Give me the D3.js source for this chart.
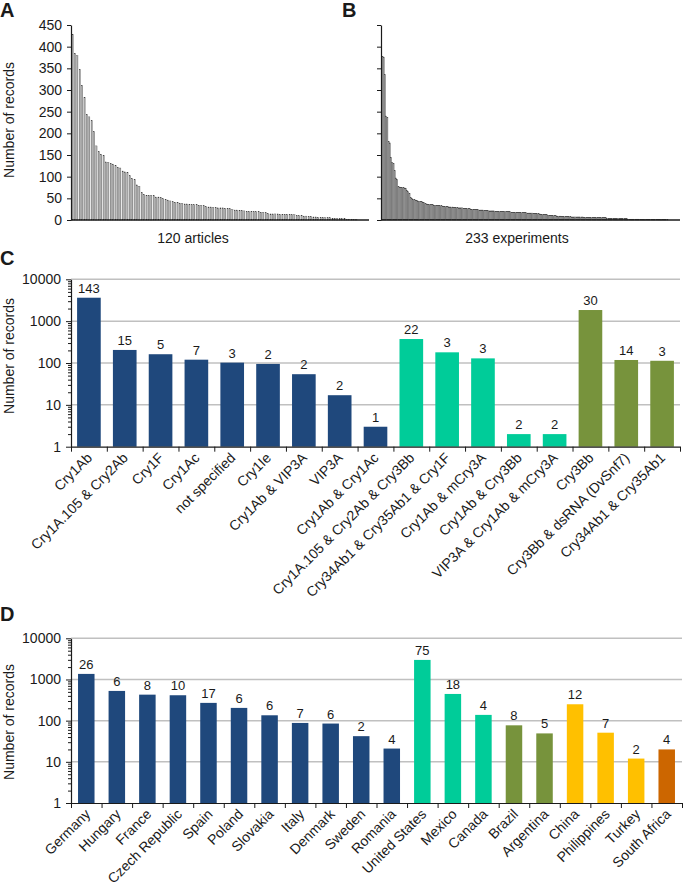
<!DOCTYPE html>
<html>
<head>
<meta charset="utf-8">
<script src="https://cdn.jsdelivr.net/npm/d3@7"></script>
<style>
body{margin:0;background:#fff}
text{font-family:"Liberation Sans",Arial,sans-serif;fill:#1a1a1a}
.domain,.tick line{stroke:#1a1a1a}
</style>
</head>
<body>
<div id="chart"></div>
<script>
// records per article (A), sorted
var articles = [428,385,379,348,311,282,244,238,229,204,171,158,152,149,134,
  133,131,129,125,122,120,113,111,109,102,96,93,81,78,64,
  59,57,57,57,57,53,53,52,49,47,46,44,42,41,40,
  39,38,37,37,36,35,35,35,34,34,33,31,30,30,29,
  29,28,28,28,27,27,26,24,23,23,22,22,21,20,20,
  19,19,19,19,18,18,17,15,14,14,14,14,13,13,13,
  13,13,12,12,11,10,10,9,9,8,8,7,7,6,6,
  6,5,5,5,4,4,4,3,3,3,2,2,2,1,1];

// records per experiment (B), sorted
var experiments = [378,376,336,240,236,182,178,145,133,130,
  114,97,94,78,76,75,75,75,74,73,
  68,65,62,52,50,48,47,46,45,44,
  43,42,42,41,40,38,37,36,36,35,
  35,35,34,34,34,33,33,33,33,32,
  32,31,31,31,30,30,30,30,29,29,
  29,29,28,28,28,28,27,27,27,26,
  26,26,25,25,25,24,24,24,24,23,
  23,23,23,22,22,22,22,21,21,21,
  21,21,20,20,20,20,20,20,19,19,
  19,19,19,19,19,18,18,18,18,18,
  18,18,18,17,17,17,17,17,16,16,
  16,16,16,15,15,15,15,15,14,13,
  13,13,12,12,12,11,11,11,10,10,
  10,10,9,9,9,9,8,8,8,8,
  8,8,8,8,7,7,7,7,7,7,
  7,7,7,7,6,6,6,6,6,6,
  6,6,6,6,6,6,5,5,5,5,
  5,5,5,4,4,4,4,4,4,4,
  4,3,3,3,3,3,3,3,3,3,
  2,2,2,2,2,2,2,2,2,2,
  1,1,1,1,1,1,1,1,1,1,
  1,1,1,1,1,1,1,1,1,1,
  1,1,1];

// C: Bt events
var events = ["Cry1Ab","Cry1A.105 & Cry2Ab","Cry1F","Cry1Ac","not specified","Cry1Ie",
  "Cry1Ab & VIP3A","VIP3A","Cry1Ab & Cry1Ac","Cry1A.105 & Cry2Ab & Cry3Bb",
  "Cry34Ab1 & Cry35Ab1 & Cry1F","Cry1Ab & mCry3A","Cry1Ab & Cry3Bb","VIP3A & Cry1Ab & mCry3A",
  "Cry3Bb","Cry3Bb & dsRNA (DvSnf7)","Cry34Ab1 & Cry35Ab1"];
var eventRecords = [3630,205,162,120,102,95,54,17,3,374,180,129,2,2,1845,118,113];
var eventCounts = [143,15,5,7,3,2,2,2,1,22,3,3,2,2,30,14,3];
var eventGroup = ["lep","lep","lep","lep","lep","lep","lep","lep","lep",
  "both","both","both","both","both","col","col","col"];

// D: countries
var countries = ["Germany","Hungary","France","Czech Republic","Spain","Poland","Slovakia",
  "Italy","Denmark","Sweden","Romania","United States","Mexico","Canada","Brazil",
  "Argentina","China","Philippines","Turkey","South Africa"];
var countryRecords = [1365,527,428,414,270,204,135,88,85,42,21,2985,445,138,77,49,250,51,12,20];
var countryCounts = [26,6,8,10,17,6,6,7,6,2,4,75,18,4,8,5,12,7,2,4];
var countryGroup = ["eu","eu","eu","eu","eu","eu","eu","eu","eu","eu","eu",
  "na","na","na","sa","sa","as","as","as","af"];

var colors = {lep:"#1f487c", both:"#00cc99", col:"#77933c",
  eu:"#1f487c", na:"#00cc99", sa:"#77933c", as:"#ffc000", af:"#cc6600"};

var svg = d3.select("#chart").append("svg")
  .attr("width", 685).attr("height", 891)
  .style("background", "#fff");

function letter(t, x, y){
  svg.append("text").attr("x", x).attr("y", y)
    .style("font-size","20px").style("font-weight","bold").text(t);
}
function ylabel(x, y){
  svg.append("text").attr("transform","translate("+x+","+y+") rotate(-90)")
    .attr("text-anchor","middle").style("font-size","14px").text("Number of records");
}

// ---- A and B ----
function drawSorted(data, left, right, pad, fill, showLabels, caption, capX){
  var y = d3.scaleLinear().domain([0,450]).range([220,25]);
  var x = d3.scaleBand().domain(d3.range(data.length)).range([left+1, right]).paddingInner(pad);
  var g = svg.append("g");
  g.selectAll("rect").data(data).enter().append("rect")
    .attr("x", function(d,i){ return x(i); })
    .attr("width", x.bandwidth())
    .attr("y", function(d){ return y(d); })
    .attr("height", function(d){ return 220 - y(d); })
    .attr("fill", fill)
    .attr("stroke", "#333").attr("stroke-width", 0.3);
  var ax = d3.axisLeft(y).tickValues(d3.range(0,451,50)).tickSize(4).tickSizeOuter(0);
  if(!showLabels) ax.tickFormat("");
  var ga = svg.append("g").attr("transform","translate("+left+",0)").call(ax);
  ga.selectAll("text").style("font-size","14px").attr("dx","-2px");
  ga.select(".domain").attr("stroke-width",1.2);
  svg.append("line").attr("x1",left).attr("x2",right+12).attr("y1",220).attr("y2",220)
    .attr("stroke","#1a1a1a").attr("stroke-width",1.5);
  svg.append("text").attr("x",capX).attr("y",243).attr("text-anchor","middle")
    .style("font-size","14px").text(caption);
}
drawSorted(articles, 71, 357, 0.5, "#b0b0b0", true, "120 articles", 193);
drawSorted(experiments, 381, 668, 0.15, "#a8a8a8", false, "233 experiments", 517);
letter("A", 0, 17);
letter("B", 342, 17);
ylabel(14, 120);

// ---- C and D (log scale) ----
function drawLog(cats, vals, counts, groups, top, bottom, left, right, pad, dx, dy){
  var y = d3.scaleLog().domain([1,10000]).range([bottom, top]);
  var x = d3.scaleBand().domain(cats).range([left, right]).paddingInner(pad).paddingOuter(pad/2);
  var g = svg.append("g");
  g.selectAll("line.grid").data([10,100,1000,10000]).enter().append("line")
    .attr("class","grid")
    .attr("x1", left).attr("x2", right)
    .attr("y1", function(d){ return y(d); }).attr("y2", function(d){ return y(d); })
    .attr("stroke","#c0c0c0").attr("stroke-width",1.5);
  g.selectAll("rect").data(vals).enter().append("rect")
    .attr("x", function(d,i){ return x(cats[i]); })
    .attr("width", x.bandwidth())
    .attr("y", function(d){ return y(d); })
    .attr("height", function(d){ return bottom - y(d); })
    .attr("fill", function(d,i){ return colors[groups[i]]; });
  g.selectAll("text.val").data(counts).enter().append("text")
    .attr("class","val")
    .attr("x", function(d,i){ return x(cats[i]) + x.bandwidth()/2; })
    .attr("y", function(d,i){ return y(vals[i]) - 5; })
    .attr("text-anchor","middle").style("font-size","13px")
    .text(function(d){ return d; });
  // minor log ticks
  var minor = [];
  [1,10,100,1000].forEach(function(p){ for(var k=2;k<10;k++) minor.push(p*k); });
  svg.append("g").attr("transform","translate("+left+",0)")
    .call(d3.axisLeft(y).tickValues(minor).tickSize(3).tickFormat(""))
    .select(".domain").remove();
  var ga = svg.append("g").attr("transform","translate("+left+",0)")
    .call(d3.axisLeft(y).tickValues([1,10,100,1000,10000]).tickFormat(d3.format("d")).tickSize(5).tickSizeOuter(0));
  ga.selectAll("text").style("font-size","14px").attr("dx","-2px");
  ga.select(".domain").attr("stroke-width",1.2);
  // category axis with boundary ticks
  var xb = d3.scaleLinear().domain([0,cats.length]).range([left,right]);
  var gx = svg.append("g").attr("transform","translate(0,"+bottom+")")
    .call(d3.axisBottom(xb).tickValues(d3.range(cats.length+1)).tickSize(5).tickSizeOuter(0).tickFormat(""));
  gx.select(".domain").attr("stroke-width",1.2);
  svg.append("g").selectAll("text").data(cats).enter().append("text")
    .attr("transform", function(d){
      return "translate("+(x(d)+x.bandwidth()/2+dx)+","+(bottom+dy)+") rotate(-45)";
    })
    .attr("text-anchor","end").style("font-size","14px")
    .text(function(d){ return d; });
}
drawLog(events, eventRecords, eventCounts, eventGroup, 279.3, 446.7, 71, 680, 0.34, 4, 12);
letter("C", 0, 265);
ylabel(14, 356);

drawLog(countries, countryRecords, countryCounts, countryGroup, 638.3, 803, 71, 682, 0.46, 5, 12);
letter("D", 0, 621);
ylabel(14, 722);
</script>
</body>
</html>
